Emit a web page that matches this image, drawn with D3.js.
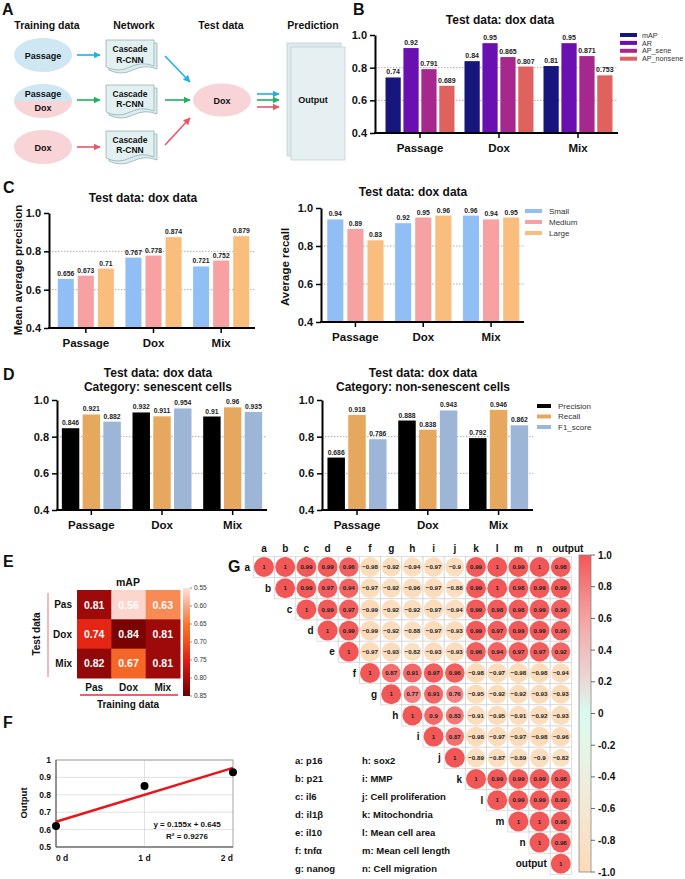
<!DOCTYPE html>
<html>
<head>
<meta charset="utf-8">
<script src="https://cdn.jsdelivr.net/npm/d3@7"></script>
<style>
  body { margin: 0; background: #fff; }
  svg { font-family: "Liberation Sans", Arial, sans-serif; }
</style>
</head>
<body>
<div id="chart"></div>
<script>
// ---- data ----
const groups = ["Passage", "Dox", "Mix"];

// B
const bSeries = ["mAP", "AR", "AP_sene", "AP_nonsene"];
const bColors = ["#16167c", "#6a10b0", "#a6288f", "#e0625e"];
const bMap = [0.74, 0.84, 0.81];
const bAr = [0.92, 0.95, 0.95];
const bApSene = [0.791, 0.865, 0.871];
const bApNonsene = [0.689, 0.807, 0.753];

// C
const sizeSeries = ["Small", "Medium", "Large"];
const sizeColors = ["#91bff5", "#f7a1a2", "#f9be7e"];
const cPrecSmall = [0.656, 0.767, 0.721];
const cPrecMedium = [0.673, 0.778, 0.752];
const cPrecLarge = [0.71, 0.874, 0.879];
const cRecSmall = [0.94, 0.92, 0.96];
const cRecMedium = [0.89, 0.95, 0.94];
const cRecLarge = [0.83, 0.96, 0.95];

// D
const metricSeries = ["Precision", "Recall", "F1_score"];
const metricColors = ["#000000", "#e6a75f", "#9db5d6"];
const dSenePrecision = [0.846, 0.932, 0.91];
const dSeneRecall = [0.921, 0.911, 0.96];
const dSeneF1 = [0.882, 0.954, 0.935];
const dNonPrecision = [0.686, 0.888, 0.792];
const dNonRecall = [0.918, 0.838, 0.946];
const dNonF1 = [0.786, 0.943, 0.862];

const yTicks = [0.4, 0.6, 0.8, 1.0];

// E
const eRows = ["Pas", "Dox", "Mix"];
const eCols = ["Pas", "Dox", "Mix"];
const eValues = [
  [0.81, 0.56, 0.63],
  [0.74, 0.84, 0.81],
  [0.82, 0.67, 0.81]
];
const eTicks = [0.55, 0.60, 0.65, 0.70, 0.75, 0.80, 0.85];

// F
const fDays = ["0 d", "1 d", "2 d"];
const fOutput = [0.62, 0.85, 0.93];
const fSlope = 0.155;
const fIntercept = 0.645;
const fR2 = 0.9276;
const fTicks = [0.5, 0.6, 0.7, 0.8, 0.9, 1];

// G
const gVars = ["a", "b", "c", "d", "e", "f", "g", "h", "i", "j", "k", "l", "m", "n", "output"];
// upper triangle, row i starts at column i
const gUpper = [
  [1, 1, 0.99, 0.99, 0.96, -0.98, -0.92, -0.94, -0.97, -0.9, 0.99, 1, 0.99, 1, 0.98],
  [1, 0.99, 0.97, 0.94, -0.97, -0.92, -0.96, -0.97, -0.88, 0.99, 1, 0.98, 0.99, 0.99],
  [1, 0.99, 0.97, -0.99, -0.92, -0.92, -0.97, -0.94, 0.99, 0.98, 0.98, 0.99, 0.96],
  [1, 0.99, -0.99, -0.92, -0.88, -0.97, -0.93, 0.99, 0.97, 0.99, 0.99, 0.96],
  [1, -0.97, -0.93, -0.82, -0.93, -0.93, 0.96, 0.94, 0.97, 0.97, 0.92],
  [1, 0.87, 0.91, 0.97, 0.96, -0.98, -0.97, -0.98, -0.98, -0.94],
  [1, 0.77, 0.91, 0.76, -0.95, -0.92, -0.92, -0.93, -0.93],
  [1, 0.9, 0.83, -0.91, -0.95, -0.91, -0.92, -0.93],
  [1, 0.87, -0.98, -0.97, -0.97, -0.98, -0.96],
  [1, -0.89, -0.87, -0.89, -0.9, -0.82],
  [1, 0.99, 0.99, 0.99, 0.98],
  [1, 0.99, 0.99, 0.99],
  [1, 1, 0.98],
  [1, 0.98],
  [1]
];
const gTicks = [1, 0.8, 0.6, 0.4, 0.2, 0, -0.2, -0.4, -0.6, -0.8, -1];
const gNamesLeft = ["a: p16", "b: p21", "c: il6", "d: il1β", "e: il10", "f: tnfα", "g: nanog"];
const gNamesRight = ["h: sox2", "i: MMP", "j: Cell proliferation", "k: Mitochondria", "l: Mean cell area", "m: Mean cell length", "n: Cell migration"];

// ---- svg ----
const svg = d3.select("#chart").append("svg")
  .attr("width", 685)
  .attr("height", 879);

svg.append("rect").attr("width", 685).attr("height", 879).attr("fill", "#fff");

function txt(x, y, s, size, opts = {}) {
  return svg.append("text")
    .attr("x", x).attr("y", y)
    .attr("font-size", size)
    .attr("font-weight", opts.weight || "bold")
    .attr("text-anchor", opts.anchor || "middle")
    .attr("fill", opts.fill || "#111")
    .text(s);
}

// panel letters
[["A", 2, 15], ["B", 353, 15], ["C", 3, 193], ["D", 3, 380], ["E", 3, 567], ["F", 3, 728], ["G", 228, 572]]
  .forEach(([s, x, y]) => txt(x, y, s, 16, { anchor: "start" }));

// ---- panel A ----
const defs = svg.append("defs");
const arrowCols = { blue: "#1fb0e8", green: "#1eb35a", pink: "#e8566a" };
Object.entries(arrowCols).forEach(([k, c]) => {
  defs.append("marker")
    .attr("id", "arr-" + k)
    .attr("viewBox", "0 -5 10 10")
    .attr("refX", 9).attr("refY", 0)
    .attr("markerWidth", 4.5).attr("markerHeight", 4.5)
    .attr("orient", "auto")
    .append("path").attr("d", "M0,-5L10,0L0,5Z").attr("fill", c);
});
function arrow(x1, y1, x2, y2, k) {
  svg.append("line")
    .attr("x1", x1).attr("y1", y1).attr("x2", x2).attr("y2", y2)
    .attr("stroke", arrowCols[k]).attr("stroke-width", 1.6)
    .attr("marker-end", `url(#arr-${k})`);
}

[["Training data", 47], ["Network", 134], ["Test data", 221], ["Prediction", 313]]
  .forEach(([s, x]) => txt(x, 29, s, 10.5));

const blueFill = "#cfe6f3", pinkFill = "#f8d4d7";
svg.append("ellipse").attr("cx", 43).attr("cy", 55).attr("rx", 29).attr("ry", 17).attr("fill", blueFill);
txt(43, 58.5, "Passage", 9);
defs.append("clipPath").attr("id", "mixclip")
  .append("ellipse").attr("cx", 43).attr("cy", 101).attr("rx", 29).attr("ry", 17);
svg.append("rect").attr("x", 13).attr("y", 83).attr("width", 60).attr("height", 18)
  .attr("fill", blueFill).attr("clip-path", "url(#mixclip)");
svg.append("rect").attr("x", 13).attr("y", 101).attr("width", 60).attr("height", 18)
  .attr("fill", pinkFill).attr("clip-path", "url(#mixclip)");
txt(43, 97, "Passage", 9);
txt(43, 111, "Dox", 9);
svg.append("ellipse").attr("cx", 43).attr("cy", 147).attr("rx", 29).attr("ry", 17).attr("fill", pinkFill);
txt(43, 150.5, "Dox", 9);

arrow(77, 55, 100, 55, "blue");
arrow(77, 100, 100, 100, "green");
arrow(77, 147, 100, 147, "pink");

function docPath(x, y, w, h) {
  return `M${x},${y} H${x + w} V${y + h - 2} Q${x + w * 0.75},${y + h - 7} ${x + w * 0.5},${y + h - 1} T${x},${y + h - 1} Z`;
}
[[40, 49, 60], [85, 94, 104], [131, 140, 150]].forEach(([top, t1, t2]) => {
  svg.append("path").attr("d", docPath(109, top + 3, 48, 28))
    .attr("fill", "#dcecef").attr("stroke", "#86a9ae").attr("stroke-width", 0.7);
  svg.append("path").attr("d", docPath(106, top, 48, 28))
    .attr("fill", "#e3f0f2").attr("stroke", "#86a9ae").attr("stroke-width", 0.7);
  txt(130, t1 + 3, "Cascade", 8.5);
  txt(130, t2 + 3, "R-CNN", 8.5);
});

arrow(165, 56, 190, 82, "blue");
arrow(165, 100, 190, 100, "green");
arrow(165, 145, 190, 118, "pink");

svg.append("ellipse").attr("cx", 222).attr("cy", 100).attr("rx", 29).attr("ry", 16.5).attr("fill", pinkFill);
txt(222, 103.5, "Dox", 9);

arrow(257, 94, 279, 94, "blue");
arrow(257, 100, 279, 100, "green");
arrow(257, 107, 279, 107, "pink");

svg.append("rect").attr("x", 287).attr("y", 43).attr("width", 54).attr("height", 113)
  .attr("fill", "#dde9ec").attr("stroke", "#b7cdd1").attr("stroke-width", 0.7);
svg.append("rect").attr("x", 291).attr("y", 47).attr("width", 54).attr("height", 113)
  .attr("fill", "#e6f0f2").attr("stroke", "#b7cdd1").attr("stroke-width", 0.7);
txt(313, 103, "Output", 9);

// ---- bar charts ----
function barChart(cfg) {
  const g = svg.append("g");
  const y = d3.scaleLinear().domain([0.4, 1.0]).range([cfg.yBot, cfg.yTop]);
  const x = d3.scaleBand().domain(groups).range([cfg.bandL, cfg.bandR]);
  const xi = d3.scaleBand().domain(cfg.series)
    .range([cfg.inPad, x.bandwidth() - cfg.inPad])
    .paddingInner(cfg.gap);

  g.selectAll(".grid").data([0.6, 0.8]).join("line")
    .attr("x1", cfg.axisX).attr("x2", cfg.axisR)
    .attr("y1", d => y(d)).attr("y2", d => y(d))
    .attr("stroke", "#999").attr("stroke-width", 0.8)
    .attr("stroke-dasharray", "1.5,1.5");

  cfg.series.forEach((s, si) => {
    const vals = cfg.values[si];
    g.selectAll(null).data(vals).join("rect")
      .attr("x", (d, i) => x(groups[i]) + xi(s))
      .attr("width", xi.bandwidth())
      .attr("y", d => y(d))
      .attr("height", d => cfg.yBot - y(d))
      .attr("fill", cfg.colors[si]);
    g.selectAll(null).data(vals).join("text")
      .attr("x", (d, i) => x(groups[i]) + xi(s) + xi.bandwidth() / 2)
      .attr("y", d => y(d) - 3)
      .attr("text-anchor", "middle")
      .attr("font-size", cfg.valSize || 7)
      .attr("font-weight", "bold")
      .attr("fill", "#222")
      .text(d => String(d));
  });

  // y axis
  const ya = g.append("g").attr("transform", `translate(${cfg.axisX},0)`)
    .call(d3.axisLeft(y).tickValues(yTicks).tickFormat(d3.format(".1f")).tickSize(5).tickSizeOuter(0).tickPadding(3));
  ya.select(".domain").attr("stroke-width", 2);
  ya.selectAll(".tick line").attr("stroke-width", 1.5);
  ya.selectAll("text").attr("font-size", 11).attr("font-weight", "bold")
    .attr("font-family", "Liberation Sans, Arial, sans-serif").attr("fill", "#111");

  // x axis
  g.append("line").attr("x1", cfg.axisX - 1).attr("x2", cfg.axisR)
    .attr("y1", cfg.yBot).attr("y2", cfg.yBot)
    .attr("stroke", "#000").attr("stroke-width", 2);
  const xa = g.append("g").attr("transform", `translate(0,${cfg.yBot})`)
    .call(d3.axisBottom(x).tickSize(5).tickSizeOuter(0).tickPadding(6));
  xa.select(".domain").remove();
  xa.selectAll(".tick line").attr("stroke-width", 1.5);
  xa.selectAll("text").attr("font-size", 11.5).attr("font-weight", "bold")
    .attr("font-family", "Liberation Sans, Arial, sans-serif").attr("fill", "#111");

  cfg.titles.forEach((t, i) => txt(cfg.titleX, cfg.titleY + i * 14, t, 12));

  if (cfg.ylabel) {
    svg.append("text")
      .attr("transform", `translate(${cfg.ylabel[1]},${cfg.ylabel[2]}) rotate(-90)`)
      .attr("text-anchor", "middle").attr("font-size", 11.5).attr("font-weight", "bold")
      .attr("fill", "#111").text(cfg.ylabel[0]);
  }

  if (cfg.legend) {
    const [lx, ly, ls] = cfg.legend;
    const sw = cfg.swW || 17;
    cfg.series.forEach((s, si) => {
      svg.append("rect").attr("x", lx).attr("y", ly + si * ls - 2)
        .attr("width", sw).attr("height", 4).attr("fill", cfg.colors[si]);
      svg.append("text").attr("x", lx + sw + (cfg.swGap || 7)).attr("y", ly + si * ls + 2.6)
        .attr("font-size", cfg.legSize || 8).attr("fill", "#333").text(s);
    });
  }
}

// B
barChart({
  yTop: 35, yBot: 133, axisX: 375, axisR: 618, bandL: 380.5, bandR: 617.5,
  inPad: 5, gap: 0.15, series: bSeries, colors: bColors,
  values: [bMap, bAr, bApSene, bApNonsene],
  titles: ["Test data: dox data"], titleX: 500, titleY: 24,
  legend: [620, 35, 7.9], swW: 17, swGap: 5, legSize: 7.2
});

// C left
barChart({
  yTop: 213, yBot: 328, axisX: 49, axisR: 255, bandL: 52, bandR: 255,
  inPad: 5.75, gap: 0.2, series: sizeSeries, colors: sizeColors,
  values: [cPrecSmall, cPrecMedium, cPrecLarge],
  titles: ["Test data: dox data"], titleX: 143, titleY: 202,
  ylabel: ["Mean average precision", 22, 270], valSize: 6.8
});

// C right
barChart({
  yTop: 208, yBot: 322, axisX: 321, axisR: 524, bandL: 321.5, bandR: 525,
  inPad: 5.75, gap: 0.2, series: sizeSeries, colors: sizeColors,
  values: [cRecSmall, cRecMedium, cRecLarge],
  titles: ["Test data: dox data"], titleX: 413, titleY: 196,
  ylabel: ["Average recall", 289, 267], valSize: 6.8,
  legend: [525, 211, 11]
});

// D left
barChart({
  yTop: 400, yBot: 510, axisX: 57, axisR: 267, bandL: 56, bandR: 268,
  inPad: 5.85, gap: 0.16, series: metricSeries, colors: metricColors,
  values: [dSenePrecision, dSeneRecall, dSeneF1],
  titles: ["Test data: dox data", "Category: senescent cells"], titleX: 158, titleY: 377,
  valSize: 6.8
});

// D right
barChart({
  yTop: 400, yBot: 510, axisX: 322, axisR: 533, bandL: 321.6, bandR: 534,
  inPad: 5.85, gap: 0.16, series: metricSeries, colors: metricColors,
  values: [dNonPrecision, dNonRecall, dNonF1],
  titles: ["Test data: dox data", "Category: non-senescent cells"], titleX: 423, titleY: 377,
  valSize: 6.8,
  legend: [537, 406, 10.5], swW: 14
});

// ---- panel E ----
const eColor = d3.scaleLinear()
  .domain([0.55, 0.60, 0.65, 0.70, 0.75, 0.80, 0.85])
  .range(["#fde2de", "#f9a88a", "#f6772f", "#f3501c", "#e31b12", "#ab0c0d", "#6c0000"]);
const ex = d3.scaleBand().domain(eCols).range([77, 180]);
const ey = d3.scaleBand().domain(eRows).range([590, 678]);
eValues.forEach((row, ri) => {
  row.forEach((v, ci) => {
    svg.append("rect").attr("x", ex(eCols[ci])).attr("y", ey(eRows[ri]))
      .attr("width", ex.bandwidth() + 0.5).attr("height", ey.bandwidth() + 0.5)
      .attr("fill", eColor(v));
    txt(ex(eCols[ci]) + ex.bandwidth() / 2, ey(eRows[ri]) + ey.bandwidth() / 2 + 4, v.toFixed(2), 10.5, { fill: "#fff" });
  });
});
txt(128, 586, "mAP", 10.5);
eRows.forEach(r => txt(72, ey(r) + ey.bandwidth() / 2 + 3.5, r, 10, { anchor: "end" }));
eCols.forEach(c => txt(ex(c) + ex.bandwidth() / 2, 691, c, 10));
svg.append("line").attr("x1", 80).attr("x2", 178).attr("y1", 695).attr("y2", 695)
  .attr("stroke", "#e0303a").attr("stroke-width", 1.6);
txt(128, 708, "Training data", 10);
svg.append("line").attr("x1", 48).attr("x2", 48).attr("y1", 593).attr("y2", 677)
  .attr("stroke", "#f3a5a6").attr("stroke-width", 1.6);
svg.append("text").attr("transform", "translate(40,634) rotate(-90)")
  .attr("text-anchor", "middle").attr("font-size", 10).attr("font-weight", "bold")
  .attr("fill", "#111").text("Test data");

const eScale = d3.scaleLinear().domain([0.55, 0.85]).range([588, 696]);
const eGrad = defs.append("linearGradient").attr("id", "egrad")
  .attr("x1", 0).attr("y1", 0).attr("x2", 0).attr("y2", 1);
eTicks.forEach((t, i) => eGrad.append("stop")
  .attr("offset", i / (eTicks.length - 1)).attr("stop-color", eColor(t)));
svg.append("rect").attr("x", 183).attr("y", 588).attr("width", 7).attr("height", 108)
  .attr("fill", "url(#egrad)");
eTicks.forEach(t => {
  svg.append("line").attr("x1", 190).attr("x2", 192).attr("y1", eScale(t)).attr("y2", eScale(t))
    .attr("stroke", "#444").attr("stroke-width", 0.6);
  svg.append("text").attr("x", 194).attr("y", eScale(t) + 2.3)
    .attr("font-size", 6.5).attr("fill", "#333").text(t.toFixed(2));
});

// ---- panel F ----
const fx = d3.scaleLinear().domain([0, 2]).range([56, 233]);
const fy = d3.scaleLinear().domain([0.5, 1]).range([847, 760]);
svg.selectAll(".fgrid").data(fTicks).join("line")
  .attr("x1", 56).attr("x2", 233).attr("y1", d => fy(d)).attr("y2", d => fy(d))
  .attr("stroke", "#d9d9d9").attr("stroke-width", 0.8);
svg.append("line").attr("x1", fx(1)).attr("x2", fx(1)).attr("y1", 760).attr("y2", 847)
  .attr("stroke", "#d9d9d9").attr("stroke-width", 0.8);
svg.append("rect").attr("x", 56).attr("y", 760).attr("width", 177).attr("height", 87)
  .attr("fill", "none").attr("stroke", "#999").attr("stroke-width", 0.9);
svg.append("line").attr("x1", 56).attr("x2", 56).attr("y1", 760).attr("y2", 847)
  .attr("stroke", "#555").attr("stroke-width", 1);
svg.append("line").attr("x1", 56).attr("x2", 233).attr("y1", 847).attr("y2", 847)
  .attr("stroke", "#555").attr("stroke-width", 1);
fTicks.forEach(t => txt(51, fy(t) + 3, String(t), 8.5, { anchor: "end" }));
fDays.forEach((d, i) => txt(fx(i), 861, d, 8.5, { anchor: i === 0 ? "start" : i === 2 ? "end" : "middle" }));
svg.append("line")
  .attr("x1", fx(0)).attr("y1", fy(fIntercept))
  .attr("x2", fx(2)).attr("y2", fy(fIntercept + fSlope * 2))
  .attr("stroke", "#e8151b").attr("stroke-width", 2.4);
svg.selectAll(".fpt").data(fOutput).join("circle")
  .attr("cx", (d, i) => fx(i)).attr("cy", d => fy(d)).attr("r", 4)
  .attr("fill", "#000");
txt(187, 827, `y = ${fSlope}x + ${fIntercept}`, 8);
txt(187, 838.5, `R² = ${fR2}`, 8);
svg.append("text").attr("transform", "translate(27,803) rotate(-90)")
  .attr("text-anchor", "middle").attr("font-size", 9.5).attr("font-weight", "bold")
  .attr("fill", "#111").text("Output");

// ---- panel G ----
const gStep = 21.2;
const gx = d3.scaleLinear().domain([0, 14]).range([264, 264 + 14 * gStep]);
const gy = d3.scaleLinear().domain([0, 14]).range([567, 567 + 14 * gStep]);
const gColor = d3.scaleLinear()
  .domain([-1, -0.6, -0.2, 0, 0.2, 0.6, 1])
  .range(["#fddbb9", "#f4e8d2", "#e4f6e8", "#d8fbef", "#eadad7", "#f4a4a2", "#f25757"]);
const gR = d3.scaleSqrt().domain([0, 1]).range([0, 10]);

gUpper.forEach((row, i) => {
  row.forEach((v, k) => {
    const j = i + k;
    const cx = gx(j), cy = gy(i);
    svg.append("rect").attr("x", cx - gStep / 2).attr("y", cy - gStep / 2)
      .attr("width", gStep).attr("height", gStep)
      .attr("fill", "#fff").attr("stroke", "#d2d2d2").attr("stroke-width", 0.7);
    svg.append("circle").attr("cx", cx).attr("cy", cy).attr("r", gR(Math.abs(v)))
      .attr("fill", gColor(v));
    const s = (v < 0 ? "−" : "") + String(Math.abs(v));
    txt(cx, cy + 2.2, s, 6.2, { fill: "#222" });
  });
});
gVars.forEach((v, j) => txt(gx(j) + (v === "output" ? 7 : 0), 552, v, 10));
gVars.forEach((v, i) => txt(gx(i) - 14, gy(i) + 3.5, v, 10, { anchor: "end" }));

const gScale = d3.scaleLinear().domain([-1, 1]).range([872, 555]);
const gGrad = defs.append("linearGradient").attr("id", "ggrad")
  .attr("x1", 0).attr("y1", 0).attr("x2", 0).attr("y2", 1);
d3.range(0, 1.0001, 0.05).forEach(o => gGrad.append("stop")
  .attr("offset", o).attr("stop-color", gColor(1 - 2 * o)));
svg.append("rect").attr("x", 579).attr("y", 555).attr("width", 12).attr("height", 317)
  .attr("fill", "url(#ggrad)").attr("stroke", "#888").attr("stroke-width", 0.8);
gTicks.forEach(t => {
  svg.append("line").attr("x1", 591).attr("x2", 595).attr("y1", gScale(t)).attr("y2", gScale(t))
    .attr("stroke", "#444").attr("stroke-width", 0.8);
  txt(598, gScale(t) + 3.5, t === 1 ? "1.0" : t === -1 ? "-1.0" : String(t), 10, { anchor: "start" });
});

gNamesLeft.forEach((s, i) => txt(295, 764 + i * 18, s, 9.5, { anchor: "start" }));
gNamesRight.forEach((s, i) => txt(362, 764 + i * 18, s, 9.5, { anchor: "start" }));
</script>
</body>
</html>
